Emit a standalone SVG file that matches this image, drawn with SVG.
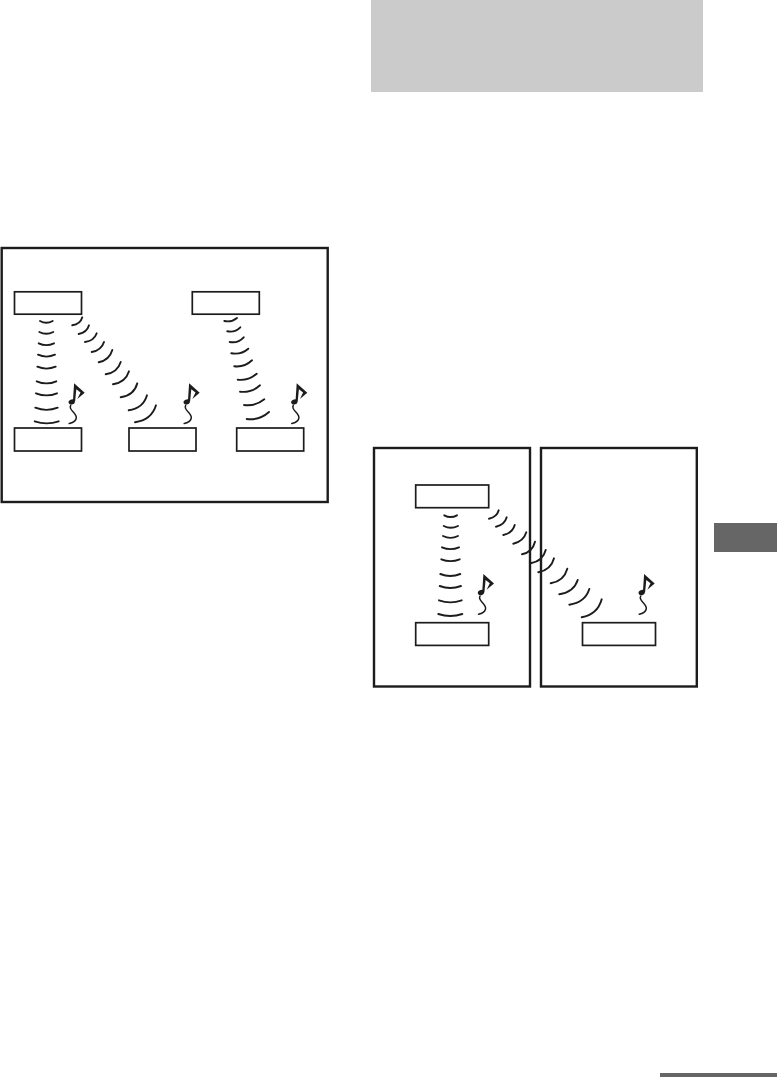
<svg xmlns="http://www.w3.org/2000/svg" width="777" height="1077" viewBox="0 0 777 1077">
<style>
.frame{fill:#fff;stroke:#1c1c1c;stroke-width:2.4}
.box{fill:#fff;stroke:#1c1c1c;stroke-width:1.7}
.arc{fill:none;stroke:#1c1c1c;stroke-width:1.9;stroke-linecap:round}
.sq{fill:none;stroke:#1c1c1c;stroke-width:1.5;stroke-linecap:round}
.nt{fill:#1c1c1c}
</style>
<defs>
<g id="note">
<ellipse cx="0" cy="0" rx="3.2" ry="2.6" class="nt" transform="rotate(-25)"/>
<path d="M1.2 -0.6L2.4 -18.8L13 -9.2L5.6 -3L8.8 -9.4L4.6 -12.8L3.4 -0.4Z" class="nt"/>
<path d="M-1 3.5C-4 8 6 11 4.5 16.5C3.5 20 0 21 -2.5 21.5" class="sq"/>
</g>
</defs>
<rect id="header-band" x="371" y="0" width="332" height="92" fill="#cbcbcb"/>
<rect id="side-tab" x="714" y="523" width="63" height="29" fill="#666"/>
<rect id="footer-rule" x="660" y="1073" width="117" height="4" fill="#666"/>
<rect id="frame-1" class="frame" x="1.7" y="248" width="326" height="254"/>
<rect id="frame-2" class="frame" x="374" y="448" width="156" height="238.5"/>
<rect id="frame-3" class="frame" x="541" y="448" width="155.8" height="238.5"/>
<g id="connectors">
<path class="arc" d="M40 321Q46.3 324.5 52.7 321M39.3 332Q46.3 335.5 53.3 332M38.7 343.3Q46.3 347 54 343.3M38 354.7Q46.5 358.5 55 354.7M37.3 366.7Q46.5 370.5 55.7 366.7M36.7 381.3Q46.5 385.5 56.3 381.3M36 393.3Q46.5 397.5 57 393.3M35.3 407.7Q46.5 412 57.7 407.7M34.7 421.3Q46.7 425.5 58.7 421.3"/>
<path class="arc" d="M72.3 325.3Q80.3 324.3 82.3 317.3M78.7 334Q86.8 332.7 89 325.3M85 342Q94 341 96.7 333.3M91.7 352Q101.3 350.5 104 342M98.7 362.3Q109.5 360 112.3 350M105.7 374.3Q117.5 372.5 120.7 362M113 384.3Q125.5 382.5 129 371.3M120.7 397.3Q134 395.5 137.3 383.3M128.7 410.3Q143 408.5 147 395.3M135 422.3Q151.5 420 156 405.3"/>
<path class="arc" d="M224.3 321Q231.7 322.5 237 318M227.3 331.3Q235 332.8 240.3 327.3M229.7 342Q238 343.5 243.7 337.3M231.3 353.3Q241 355 248.3 348.7M234.3 366.3Q244.5 367.5 252 360.3M237.7 379.7Q248.5 381 256.7 373.7M240 391.7Q251.5 393 260 385.3M244 405Q255.5 406.5 264.3 399.3M246.7 419Q259.5 420.5 269 412"/>
<path class="arc" d="M444.3 515.3Q450.6 518.8 457 515.3M443.7 526Q450.8 529.5 458 526M443 536Q450.5 539.7 458 536M442 547.3Q450.5 551 459 547.3M441.3 559.3Q450.5 563 459.7 559.3M440.3 574Q450.3 578 460.3 574M439.7 586Q450.3 590 461 586M439 600.3Q450.3 604.5 461.7 600.3M438.3 614Q450.3 618 462.3 614"/>
<path class="arc" d="M489 518.7Q497 517 498.7 510.3M496 526.7Q504.5 525 506.7 517.3M503.3 535Q512.5 533 514.7 525M513.3 543.7Q523.5 541.5 526.3 532.3M522 554.3Q532.5 552 535 541.7M530.7 563.3Q543 561 545.7 550M538.3 572.3Q551 570 554 558.3M550.7 583.3Q564 581 567.3 568.7M559.3 594.3Q574 592 577.7 580M569.3 604.7Q585 602.5 589.3 589M581.7 617.3Q597.5 614.5 601.7 599.3"/>
</g>
<g id="node-1"><rect class="box" x="14.5" y="291.8" width="67" height="22.4"/></g>
<g id="node-2"><rect class="box" x="192.3" y="291.8" width="67" height="22.4"/></g>
<g id="node-3"><rect class="box" x="14.5" y="428" width="67" height="23"/></g>
<g id="node-4"><rect class="box" x="129" y="428" width="67" height="23"/></g>
<g id="node-5"><rect class="box" x="236.7" y="428" width="67" height="23"/></g>
<g id="node-6"><rect class="box" x="415.7" y="485" width="73" height="22.7"/></g>
<g id="node-7"><rect class="box" x="415.7" y="622.7" width="73" height="22.7"/></g>
<g id="node-8"><rect class="box" x="582.5" y="622.7" width="73" height="22.7"/></g>
<g id="notes">
<use href="#note" x="71.7" y="402"/>
<use href="#note" x="186.7" y="402"/>
<use href="#note" x="294.3" y="402"/>
<use href="#note" x="481" y="592.7"/>
<use href="#note" x="641.7" y="592.7"/>
</g>
</svg>
